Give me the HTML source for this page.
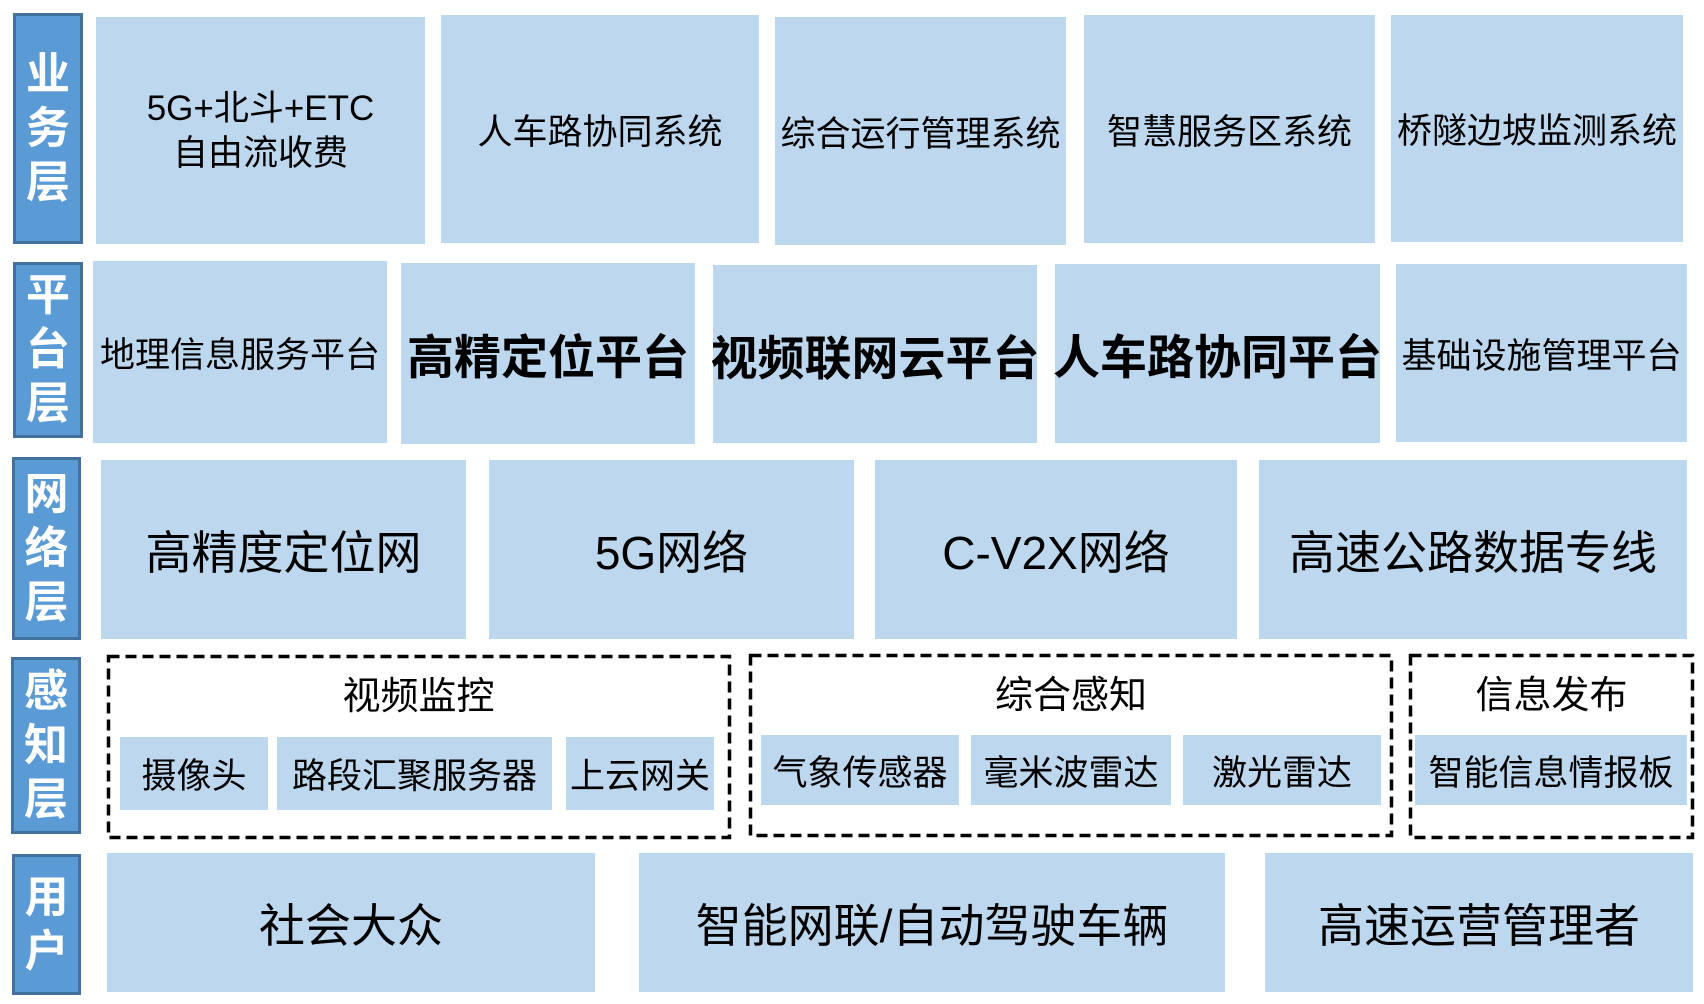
<!DOCTYPE html>
<html><head><meta charset="utf-8"><style>
html,body{margin:0;padding:0;background:#fff;}
body{width:1704px;height:1004px;position:relative;overflow:hidden;font-family:"Liberation Sans","Noto Sans CJK SC",sans-serif;color:#000;}
.b{position:absolute;background:#bdd7ee;display:flex;align-items:center;justify-content:center;text-align:center;white-space:nowrap;}
.l{position:absolute;background:#5b9bd5;border:3px solid #41719c;box-sizing:border-box;color:#fff;font-weight:bold;font-size:44px;line-height:54px;display:flex;align-items:center;justify-content:center;text-align:center;}
.t{position:absolute;font-size:38px;text-align:center;white-space:nowrap;}
.f35{font-size:35px;}.f45{font-size:46px;}.bold{font-weight:bold;font-size:47px;}
svg{position:absolute;left:0;top:0;}
</style></head><body>
<!-- labels -->
<div class="l" style="left:13px;top:13px;width:70px;height:231px;">业<br>务<br>层</div>
<div class="l" style="left:13px;top:262px;width:70px;height:176px;">平<br>台<br>层</div>
<div class="l" style="left:12px;top:457px;width:69px;height:183px;">网<br>络<br>层</div>
<div class="l" style="left:11px;top:657px;width:70px;height:177px;">感<br>知<br>层</div>
<div class="l" style="left:12px;top:854px;width:69px;height:141px;">用<br>户</div>

<!-- row1 -->
<div class="b f35" style="left:96px;top:17px;width:329px;height:227px;line-height:45px;">5G+北斗+ETC<br>自由流收费</div>
<div class="b f35" style="left:441px;top:15px;width:318px;height:228px;">人车路协同系统</div>
<div class="b f35" style="left:775px;top:17px;width:291px;height:228px;">综合运行管理系统</div>
<div class="b f35" style="left:1084px;top:15px;width:291px;height:228px;">智慧服务区系统</div>
<div class="b f35" style="left:1391px;top:15px;width:292px;height:227px;">桥隧边坡监测系统</div>

<!-- row2 -->
<div class="b f35" style="left:93px;top:261px;width:294px;height:182px;">地理信息服务平台</div>
<div class="b bold" style="left:401px;top:263px;width:294px;height:181px;">高精定位平台</div>
<div class="b bold" style="left:713px;top:265px;width:324px;height:178px;">视频联网云平台</div>
<div class="b bold" style="left:1055px;top:264px;width:325px;height:179px;">人车路协同平台</div>
<div class="b f35" style="left:1396px;top:264px;width:291px;height:178px;">基础设施管理平台</div>

<!-- row3 -->
<div class="b f45" style="left:101px;top:460px;width:365px;height:179px;">高精度定位网</div>
<div class="b f45" style="left:489px;top:460px;width:365px;height:179px;">5G网络</div>
<div class="b f45" style="left:875px;top:460px;width:362px;height:179px;">C-V2X网络</div>
<div class="b f45" style="left:1259px;top:460px;width:428px;height:179px;">高速公路数据专线</div>

<!-- row4 -->
<svg width="1704" height="1004" viewBox="0 0 1704 1004">
<g fill="none" stroke="#000" stroke-width="3.5" stroke-dasharray="11 6">
<rect x="108.5" y="656.5" width="621" height="181"/>
<rect x="750.5" y="655.5" width="641" height="180"/>
<rect x="1410.5" y="655.5" width="282" height="182"/>
</g></svg>
<div class="t" style="left:107px;top:665px;width:623px;">视频监控</div>
<div class="t" style="left:749px;top:664px;width:644px;">综合感知</div>
<div class="t" style="left:1409px;top:664px;width:285px;">信息发布</div>
<div class="b f35" style="left:120px;top:737px;width:148px;height:73px;">摄像头</div>
<div class="b f35" style="left:277px;top:737px;width:275px;height:73px;">路段汇聚服务器</div>
<div class="b f35" style="left:566px;top:737px;width:148px;height:73px;">上云网关</div>
<div class="b f35" style="left:761px;top:735px;width:198px;height:70px;">气象传感器</div>
<div class="b f35" style="left:971px;top:735px;width:200px;height:70px;">毫米波雷达</div>
<div class="b f35" style="left:1183px;top:735px;width:198px;height:70px;">激光雷达</div>
<div class="b f35" style="left:1415px;top:735px;width:272px;height:70px;">智能信息情报板</div>

<!-- row5 -->
<div class="b f45" style="left:107px;top:853px;width:488px;height:139px;">社会大众</div>
<div class="b f45" style="left:639px;top:853px;width:586px;height:139px;">智能网联/自动驾驶车辆</div>
<div class="b f45" style="left:1265px;top:853px;width:428px;height:139px;">高速运营管理者</div>
</body></html>
